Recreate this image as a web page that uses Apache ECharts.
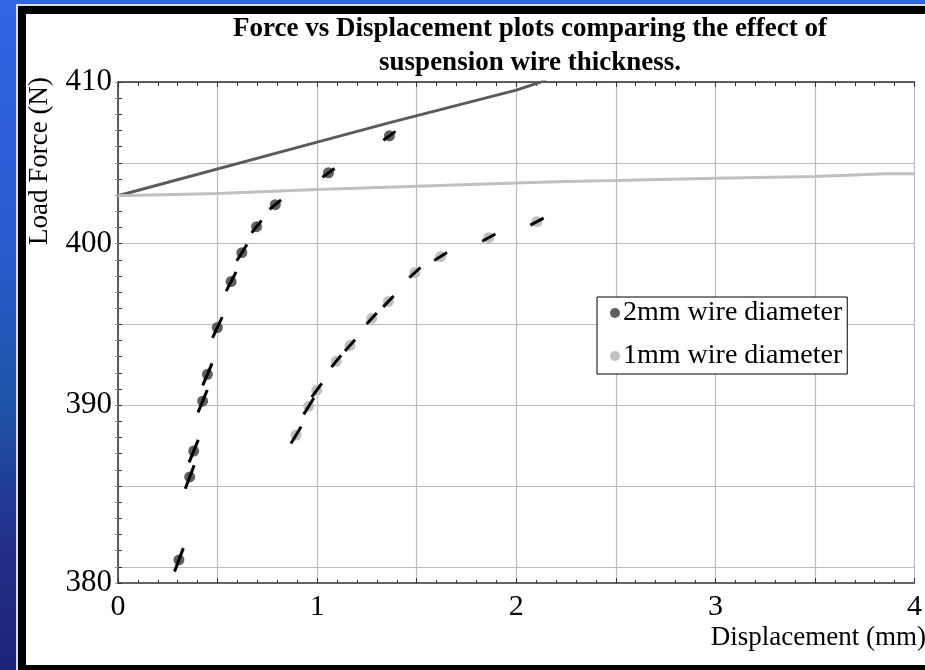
<!DOCTYPE html>
<html>
<head>
<meta charset="utf-8">
<title>Force vs Displacement</title>
<script src="https://cdn.jsdelivr.net/npm/echarts@6/dist/echarts.min.js"></script>
<style>
    html, body { margin: 0; padding: 0; }
    #chart { width: 925px; height: 670px; }
</style>
</head>
<body>
<div id="chart"></div>
<script>
// 2mm wire: measured points
let wire2x = [0.306, 0.360, 0.380, 0.425, 0.449, 0.499, 0.568, 0.622, 0.696, 0.790, 1.057, 1.363];
let wire2y = [380.43, 385.56, 387.16, 390.25, 391.91, 394.81, 397.65, 399.44, 401.05, 402.41, 404.38, 406.67];
// 1mm wire: measured points
let wire1x = [0.894, 0.958, 0.998, 1.096, 1.165, 1.274, 1.358, 1.491, 1.620, 1.862, 2.104];
let wire1y = [388.15, 389.94, 390.93, 392.72, 393.70, 395.37, 396.42, 398.21, 399.20, 400.37, 401.36];
// reference lines
let line2x = [0, 1.0, 1.36, 2.0, 2.15];
let line2y = [402.96, 406.28, 407.47, 409.5, 410.1];
let line1x = [0, 0.5, 1.0, 1.5, 2.0, 2.25, 2.5, 3.0, 3.5, 3.85, 4.0];
let line1y = [402.96, 403.1, 403.35, 403.55, 403.75, 403.85, 403.9, 404.05, 404.15, 404.32, 404.32];

let xLabels = [0, 1, 2, 3, 4];
let yLabels = [380, 390, 400, 410];

let serif = 'Liberation Serif';

function pairs(xs, ys) {
    return xs.map((x, i) => [x, ys[i]]);
}

// gray dot with a short black stroke through it
function pointItem(xs, ys) {
    return function (params, api) {
        let i = params.dataIndex;
        let n = xs.length - 1;
        let p = api.coord([xs[i], ys[i]]);
        let a = api.coord([xs[Math.max(i - 1, 0)], ys[Math.max(i - 1, 0)]]);
        let b = api.coord([xs[Math.min(i + 1, n)], ys[Math.min(i + 1, n)]]);
        let theta = Math.atan2(a[1] - b[1], b[0] - a[0]) * 180 / Math.PI;
        // strokes lean less than the curve itself
        let phi = 45 + 0.65 * (theta - 45);
        let L = 15 + 13 * Math.max(0, (phi - 50) / 25);
        let ux = Math.cos(phi * Math.PI / 180), uy = -Math.sin(phi * Math.PI / 180);
        let h = L / 2;
        return {
            type: 'group',
            children: [
                { type: 'circle', shape: { cx: p[0], cy: p[1], r: 5.5 }, style: { fill: api.visual('color') } },
                {
                    type: 'line',
                    shape: { x1: p[0] - ux * h, y1: p[1] - uy * h, x2: p[0] + ux * h, y2: p[1] + uy * h },
                    style: { stroke: '#000', lineWidth: 3 }
                }
            ]
        };
    };
}

let chart = echarts.init(document.getElementById('chart'));

let option = {
    animation: false,
    backgroundColor: {
        type: 'linear', x: 0, y: 0, x2: 0, y2: 1,
        colorStops: [
            { offset: 0, color: '#3265e4' },
            { offset: 0.35, color: '#2b5ad0' },
            { offset: 0.6, color: '#1f55a8' },
            { offset: 0.8, color: '#22308c' },
            { offset: 1, color: '#1c2478' }
        ]
    },
    graphic: [
        { type: 'rect', z: -10, shape: { x: 16, y: 4, width: 920, height: 680 }, style: { fill: '#d8def0' } },
        { type: 'rect', z: -9, shape: { x: 18, y: 6, width: 920, height: 680 }, style: { fill: '#000' } },
        { type: 'rect', z: -8, shape: { x: 26, y: 14, width: 910, height: 651 }, style: { fill: '#fff' } },
        {
            type: 'text', z: 10, x: 40, y: 161, rotation: Math.PI / 2,
            style: { text: 'Load Force (N)', fill: '#000', font: '27px "' + serif + '"', textAlign: 'center', textVerticalAlign: 'middle' }
        },
        {
            type: 'text', z: 10, x: 926, y: 638,
            style: { text: 'Displacement (mm)', fill: '#000', font: '27px "' + serif + '"', textAlign: 'right', textVerticalAlign: 'middle' }
        }
    ],
    title: {
        text: 'Force vs Displacement plots comparing the effect of\nsuspension wire thickness.',
        left: 530,
        top: 12,
        textAlign: 'center',
        padding: 0,
        textStyle: { fontFamily: serif, fontWeight: 'bold', fontSize: 27, lineHeight: 34, color: '#000' }
    },
    legend: {
        data: [
            { name: '2mm wire diameter', icon: 'circle' },
            { name: '1mm wire diameter', icon: 'circle' }
        ],
        orient: 'vertical',
        left: 597,
        top: 297,
        itemWidth: 10,
        itemHeight: 10,
        itemGap: 15,
        padding: [2, 5, 4, 13],
        borderColor: '#000',
        borderWidth: 1,
        backgroundColor: '#fff',
        textStyle: { fontFamily: serif, fontSize: 28, color: '#000', padding: [0, 0, 0, -2] }
    },
    grid: { left: 118, right: 0, top: 82, bottom: 87 },
    xAxis: [
        {
            type: 'value', min: 0, max: 4, interval: 0.5,
            axisLine: { lineStyle: { color: '#333', width: 1.5 } },
            axisTick: { inside: true, length: 5, lineStyle: { color: '#333' } },
            minorTick: { show: true, splitNumber: 5, length: 3, lineStyle: { color: '#333' } },
            splitLine: { show: true, lineStyle: { color: '#bcbcbc', width: 1.2 } },
            axisLabel: {
                margin: 9, fontFamily: serif, fontSize: 30, color: '#000',
                formatter: v => (xLabels.indexOf(v) >= 0 ? String(v) : '')
            }
        },
        {
            type: 'value', position: 'top', min: 0, max: 4, interval: 0.5,
            axisLine: { lineStyle: { color: '#333', width: 1.5 } },
            axisTick: { inside: true, length: 5, lineStyle: { color: '#333' } },
            minorTick: { show: true, splitNumber: 5, length: 4, lineStyle: { color: '#333' } },
            splitLine: { show: false },
            axisLabel: { show: false }
        }
    ],
    yAxis: [
        {
            type: 'value', min: 379, max: 410, interval: 1,
            axisLine: { show: true, lineStyle: { color: '#333', width: 1.5 } },
            axisTick: { inside: true, length: 4, lineStyle: { color: '#333' } },
            splitLine: {
                show: true,
                lineStyle: { color: ['transparent', '#bcbcbc', 'transparent', 'transparent', 'transparent'], width: 1.2 }
            },
            axisLabel: {
                margin: 6, fontFamily: serif, fontSize: 31, color: '#000',
                // the lowest label sits on the bottom axis in the original
                formatter: v => (v === 379 ? String(yLabels[0]) : (v !== 380 && yLabels.indexOf(v) >= 0 ? String(v) : ''))
            }
        },
        {
            type: 'value', position: 'right', min: 379, max: 410, interval: 1,
            axisLine: { show: false },
            axisTick: { inside: true, length: 3, lineStyle: { color: '#999' } },
            splitLine: { show: false },
            axisLabel: { show: false }
        }
    ],
    series: [
        {
            name: '2mm line', type: 'line', data: pairs(line2x, line2y),
            symbol: 'none', lineStyle: { color: '#5b5b5b', width: 3 }, z: 2
        },
        {
            name: '1mm line', type: 'line', data: pairs(line1x, line1y),
            symbol: 'none', lineStyle: { color: '#c0c0c0', width: 3 }, z: 2
        },
        {
            name: '2mm wire diameter', type: 'custom', data: pairs(wire2x, wire2y),
            encode: { x: 0, y: 1 }, itemStyle: { color: '#606060' },
            renderItem: pointItem(wire2x, wire2y), z: 4
        },
        {
            name: '1mm wire diameter', type: 'custom', data: pairs(wire1x, wire1y),
            encode: { x: 0, y: 1 }, itemStyle: { color: '#c0c0c0' },
            renderItem: pointItem(wire1x, wire1y), z: 4
        }
    ]
};

chart.setOption(option);
</script>
</body>
</html>
